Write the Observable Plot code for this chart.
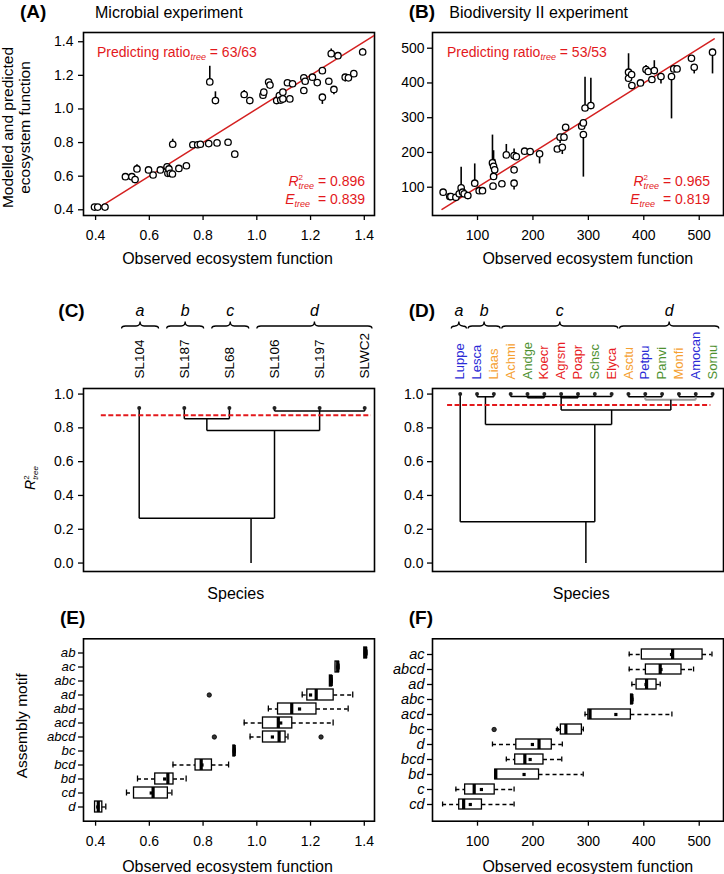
<!DOCTYPE html>
<html><head><meta charset="utf-8">
<script src="https://cdn.jsdelivr.net/npm/d3@7"></script>
<script src="https://cdn.jsdelivr.net/npm/@observablehq/plot@0.6"></script>
<style>
body{margin:0;background:#fff;}
#root{position:relative;width:724px;height:874px;overflow:hidden;background:#fff;}
</style></head><body><div id="root"></div>
<script>
// ---------- DATA ----------
// Panel A: Microbial experiment (observed, modelled, predicted)
const obsA  = [0.396,0.408,0.435,0.511,0.535,0.547,0.554,0.597,0.614,0.641,0.666,0.669,0.673,0.678,0.686,0.71,0.738,0.687,0.762,0.78,0.79,0.821,0.852,0.893,0.918,0.825,0.846,0.953,0.974,1.023,1.026,1.044,1.049,1.074,1.084,1.089,1.097,1.097,1.114,1.123,1.133,1.175,1.175,1.18,1.207,1.225,1.244,1.244,1.268,1.277,1.287,1.302,1.329,1.341,1.361,1.394];
const predA = [0.416,0.416,0.416,0.597,0.597,0.58,0.643,0.637,0.607,0.637,0.656,0.617,0.643,0.617,0.613,0.646,0.662,0.79,0.787,0.787,0.79,0.794,0.798,0.802,0.731,1.161,1.05,1.086,1.05,1.082,1.10,1.16,1.142,1.05,1.08,1.053,1.1,1.06,1.156,1.06,1.15,1.11,1.185,1.165,1.189,1.157,1.228,1.07,1.165,1.329,1.116,1.317,1.189,1.185,1.21,1.339];
const endA  = [0.416,0.416,0.416,0.597,0.597,0.58,0.668,0.637,0.607,0.637,0.676,0.617,0.643,0.617,0.613,0.646,0.662,0.82,0.787,0.787,0.79,0.794,0.798,0.802,0.731,1.254,1.102,1.11,1.05,1.082,1.115,1.176,1.16,1.05,1.08,1.053,1.1,1.06,1.156,1.06,1.15,1.11,1.20,1.165,1.189,1.157,1.228,1.027,1.15,1.357,1.085,1.317,1.16,1.17,1.21,1.36];
const fitA = [0.42, 1.44];
const statsA = {ratio: "63/63", r2: "0.896", e: "0.839"};

// Panel B: Biodiversity II experiment
const obsB  = [38,50,52,61,67,70.5,73,76,82.6,95,103,109,127,129,131,129,128,144,152,166,170,166,166,185,195,212,244,249,253,256,259,288,291,291,294,304.5,372.5,372.5,378,378.5,394,404,408,414.6,419,431,450,454,460,486,491,524];
const predB = [85.6,73,73,71,81,98,85.6,81,76,111.5,90,90,170,160,150,131,103,110,193,191,188,150,111.5,203.6,202.6,196,210,244,215,244,272.6,275.5,285,251.5,328,335,431,413.6,424,392.6,400,438.6,433,410,435.7,418.5,418.5,440.5,440.5,471,445,488.5];
const endB  = [85.6,73,73,71,81,157.5,85.6,81,76,167,90,90,250,205,180,131,103,110,223,210,188,150,92,203.6,202.6,167,210,226,194,244,272.6,275.5,285,129,416.5,413.7,484,413.6,424,392.6,400,450,433,410,464,397,296.6,440.5,440.5,471,426,426];
const fitB = [36, 527];
const statsB = {ratio: "53/53", r2: "0.965", e: "0.819"};

// Panel C: dendrogram, microbial species
const leavesC = ["SL104","SL187","SL68","SL106","SL197","SLWC2"];
const leafR2C = 0.918;
const mergesC = [
  {id:"bc",   children:["SL187","SL68"], height:0.854, anchor:1.5},
  {id:"d",    children:["SL106","SL197","SLWC2"], height:0.90, anchor:4},
  {id:"bcd",  children:["bc","d"], height:0.784, anchor:3},
  {id:"root", children:["SL104","bcd"], height:0.265, anchor:2.48}
];
const thresholdC = 0.874;
const groupsC = [{g:"a",from:0,to:0},{g:"b",from:1,to:1},{g:"c",from:2,to:2},{g:"d",from:3,to:5}];

// Panel D: dendrogram, plant species
const leavesD = ["Luppe","Lesca","Liaas","Achmi","Andge","Koecr","Agrsm","Poapr","Schsc","Elyca","Asctu","Petpu","Panvi","Monfi","Amocan","Sornu"];
const funcGroupD = ["legume","legume","forb","forb","C4","C3","C3","C3","C4","C3","forb","legume","C4","forb","legume","C4"];
const leafR2D = 1.0;
const mergesD = [
  {id:"b",   children:["Lesca","Liaas"], height:0.984, anchor:1.5},
  {id:"c1",  children:["Andge","Koecr"], height:0.978, anchor:4.5},
  {id:"c2",  children:["Agrsm","Poapr"], height:0.978, anchor:6.5},
  {id:"c",   children:["Achmi","c1","c2","Schsc","Elyca"], height:0.985, anchor:6},
  {id:"d1",  children:["Asctu","Petpu","Panvi"], height:0.984, anchor:11},
  {id:"d2",  children:["Monfi","Amocan","Sornu"], height:0.984, anchor:14},
  {id:"d",   children:["d1","d2"], height:0.967, anchor:12.52},
  {id:"cd",  children:["c","d"], height:0.906, anchor:9},
  {id:"bcd", children:["b","cd"], height:0.82, anchor:8},
  {id:"root",children:["Luppe","bcd"], height:0.245, anchor:7.47}
];
const thresholdD = 0.935;
const groupsD = [{g:"a",from:0,to:0},{g:"b",from:1,to:2},{g:"c",from:3,to:9},{g:"d",from:10,to:15}];

// Panel E: box plots, microbial
const motifsE = ["ab","ac","abc","ad","abd","acd","abcd","bc","bcd","bd","cd","d"];
const q1E   = [1.400,1.293,1.272,1.188,1.079,1.023,1.023,0.913,0.772,0.622,0.543,0.398];
const medE  = [1.405,1.301,1.277,1.221,1.130,1.080,1.083,0.916,0.793,0.669,0.614,0.410];
const q3E   = [1.410,1.306,1.280,1.286,1.222,1.132,1.107,0.919,0.833,0.690,0.669,0.425];
const loE   = [1.400,1.293,1.272,1.169,1.043,0.953,0.975,0.913,0.688,0.556,0.515,0.398];
const hiE   = [1.410,1.306,1.280,1.357,1.340,1.284,1.116,0.919,0.895,0.737,0.684,0.438];
const meanE = [1.405,1.301,1.277,1.200,1.159,1.089,1.058,0.916,0.796,0.657,0.607,0.408];
const outMotifE = ["ad","abcd","abcd"];
const outValE   = [0.823,0.842,1.239];

// Panel F: box plots, Biodiversity II
const motifsF = ["ac","abcd","ad","abc","acd","bc","d","bcd","bd","c","cd"];
const q1F   = [396.5,403.8,387,377,300,250.4,170,168,132,77.7,67];
const medF  = [452,429.6,405,378.5,303,259.4,211,185.4,133,94,75];
const q3F   = [506,468,423,380,376.7,288.3,234,219,211,131,108];
const loF   = [373.7,373.7,378.5,377,294,244,127,152,132,61,37];
const hiF   = [523,489.8,429.6,380,450.7,291,253,252,290.7,166,166];
const meanF = [450,431,404,378.5,349.6,244,199,195,184,107,87];
const outMotifF = ["bc"];
const outValF   = [130];

const ticksA = [0.4,0.6,0.8,1.0,1.2,1.4];
const ticksB = [100,200,300,400,500];
const ticksR = [0,0.2,0.4,0.6,0.8,1.0];

// ---------- STYLE ----------
const FONT = "'Liberation Sans', Arial, Helvetica, sans-serif";
const RED = "#e3191c";
const baseStyle = {background:"transparent", fontFamily:FONT, fontSize:"14px", color:"#000", overflow:"visible"};
const root = document.getElementById("root");

function place(svg, left, top){
  svg.style.position = "absolute"; svg.style.left = left+"px"; svg.style.top = top+"px";
  svg.style.overflow = "visible"; svg.style.maxWidth = "none";
  root.appendChild(svg); return svg;
}
function rich(svg, {x, y, anchor="start", size=14, fill="#000", rotate=0, parts}){
  const g = d3.select(svg).append("g").attr("transform", `translate(${x},${y}) rotate(${rotate})`);
  const t = g.append("text").attr("text-anchor", anchor).attr("font-size", size).attr("fill", fill)
    .attr("font-family", FONT).style("white-space","pre");
  for (const p of parts){
    const s = t.append("tspan").text(p.t);
    if (p.italic) s.attr("font-style","italic");
    if (p.bold) s.attr("font-weight","bold");
    if (p.size) s.attr("font-size", p.size);
    if (p.dy) s.attr("dy", p.dy);
    if (p.dx) s.attr("dx", p.dx);
  }
}
function title(svg, x, y, letter, text, textX){
  rich(svg, {x, y, size:19, parts:[{t:letter, bold:true}]});
  if (text) rich(svg, {x:textX, y, size:16, parts:[{t:text}]});
}

// ---------- SCATTER PANELS ----------
function scatter(obs, pred, end, fit, ticks, fmt, xDom, yDom, marginLeft, width, padY){
  const pts = obs.map((o,i)=>({obs:o, pred:pred[i], end:end[i]}));
  return Plot.plot({
    width, height:270, marginLeft, marginRight:width-(marginLeft+291), marginTop:32, marginBottom:55,
    x:{domain:xDom}, y:{domain:yDom}, style:baseStyle,
    marks:[
      Plot.frame({stroke:"#000", strokeWidth:1.6}),
      Plot.axisX({ticks, tickFormat:fmt, tickSize:5, tickPadding:10, strokeWidth:1.3, label:null, fontSize:14}),
      Plot.axisY({ticks, tickFormat:fmt, tickSize:5, tickPadding:padY, strokeWidth:1.3, label:null, fontSize:14}),
      Plot.line(fit.map(v=>({x:v,y:v})), {x:"x", y:"y", stroke:"#d42020", strokeWidth:1.5, clip:true}),
      Plot.ruleX(pts, {x:"obs", y1:"pred", y2:"end", stroke:"#000", strokeWidth:1.6}),
      Plot.dot(pts, {x:"obs", y:"pred", r:3.2, stroke:"#000", fill:"#fff", strokeWidth:1.3})
    ]
  });
}
function statText(svg, startX, rightX, st){
  rich(svg, {x:startX, y:57, size:14, fill:RED, parts:[{t:"Predicting ratio"},{t:"tree", size:9, italic:true, dy:3},{t:" = "+st.ratio, dy:-3}]});
  rich(svg, {x:rightX, y:186, anchor:"end", size:14, fill:RED, parts:[{t:"R", italic:true},{t:"2", size:8, dy:-6},{t:"tree", size:9, italic:true, dx:-4.5, dy:9},{t:" = "+st.r2, dy:-3}]});
  rich(svg, {x:rightX, y:204, anchor:"end", size:14, fill:RED, parts:[{t:"E", italic:true},{t:"tree", size:9, italic:true, dy:3},{t:"  = "+st.e, dy:-3}]});
}

const A = place(scatter(obsA, predA, endA, fitA, ticksA, ".1f", [0.355,1.438], [0.366,1.455], 83, 380, 5), 0, 0);
title(A, 20, 18, "(A)", "Microbial experiment", 95);
statText(A, 97, 365, statsA);
rich(A, {x:227.5, y:264, anchor:"middle", size:16, parts:[{t:"Observed ecosystem function"}]});
rich(A, {x:12.5, y:127.5, anchor:"middle", size:15.5, rotate:-90, parts:[{t:"Modelled and predicted"}]});
rich(A, {x:29.5, y:127.5, anchor:"middle", size:15.5, rotate:-90, parts:[{t:"ecosystem function"}]});

const B = place(scatter(obsB, predB, endB, fitB, ticksB, "d", [18.8,543.8], [18.6,545.2], 52, 344, 3), 380, 0);
title(B, 28.7, 18, "(B)", "Biodiversity II experiment", 69.3);
statText(B, 67, 330, statsB);
rich(B, {x:207.8, y:264, anchor:"middle", size:16, parts:[{t:"Observed ecosystem function"}]});

// ---------- DENDROGRAMS ----------
function dendro(leaves, leafH, merges){
  const pos = new Map(leaves.map((l,i)=>[l,{x:i,h:leafH}]));
  const segs = [];
  for (const m of merges){
    const cs = m.children.map(c=>pos.get(c));
    const xs = cs.map(c=>c.x);
    segs.push({x1:d3.min(xs), x2:d3.max(xs), y1:m.height, y2:m.height, id:m.id});
    for (const c of cs) segs.push({x1:c.x, x2:c.x, y1:c.h, y2:m.height, id:m.id});
    pos.set(m.id, {x:m.anchor, h:m.height});
  }
  const r = merges[merges.length-1];
  segs.push({x1:r.anchor, x2:r.anchor, y1:r.height, y2:0, id:"trunk"});
  return segs;
}
function braces(svg, plot, groups, padL, padR, yLine, size){
  const x = plot.scale("x").apply;
  const maxX = plot.scale("x").range[1] - 2;
  const g = d3.select(svg).append("g").attr("fill","none").attr("stroke","#000").attr("stroke-width",1.3);
  for (const gr of groups){
    const x1 = x(gr.from - padL), x2 = Math.min(maxX, x(gr.to + padR)), mid = (x1+x2)/2, r = 4;
    const yE = yLine+2.5, yP = yLine-4.5;
    g.append("path").attr("d",
      `M${x1},${yE} Q${x1},${yLine} ${x1+r},${yLine} L${mid-r},${yLine} Q${mid},${yLine} ${mid},${yP} Q${mid},${yLine} ${mid+r},${yLine} L${x2-r},${yLine} Q${x2},${yLine} ${x2},${yE}`);
    rich(svg, {x:mid, y:yLine-10, anchor:"middle", size, parts:[{t:gr.g, italic:true}]});
  }
}
function dendroPlot(leaves, leafH, merges, thr, width, marginLeft, xDom, labelSize, labelDy, extra, padY){
  const segs = dendro(leaves, leafH, merges);
  const n = leaves.length;
  return Plot.plot({
    width, height:330, marginLeft, marginRight:width-(marginLeft+291), marginTop:108, marginBottom:39,
    x:{domain:xDom, axis:null}, y:{domain:[-0.05,1.033]}, style:baseStyle,
    color: extra.color,
    marks:[
      Plot.frame({stroke:"#000", strokeWidth:1.6}),
      Plot.axisY({ticks:ticksR, tickFormat:".1f", tickSize:5, tickPadding:padY, strokeWidth:1.3, label:null, fontSize:14}),
      Plot.link(segs, {x1:"x1", y1:"y1", x2:"x2", y2:"y2", stroke:d=>extra.grey && extra.grey.includes(d.id) ? "#999" : "#000",
        strokeWidth:d=>extra.grey && extra.grey.includes(d.id) ? 2 : 1.5}),
      Plot.ruleY([thr], {x1:extra.thrFrom, x2:n-1+extra.thrTo, stroke:RED, strokeWidth:2, strokeDasharray:"5,2.5"}),
      Plot.dot(leaves, {x:(d,i)=>i, y:leafH, r:2, fill:"#222"}),
      Plot.text(leaves, {x:(d,i)=>i, frameAnchor:"top", dy:labelDy, rotate:-90, textAnchor:"start", lineAnchor:"middle",
        text:d=>d, fontSize:labelSize, fill: extra.fill || "#000"})
    ]
  });
}

const Cp = dendroPlot(leavesC, leafR2C, mergesC, thresholdC, 380, 83, [-1.235,5.217], 13.5, -10, {thrFrom:-0.84, thrTo:0.15}, 5);
const C = place(Cp, 0, 280);
braces(C, Cp, groupsC, 0.38, 0.44, 46, 16);
title(C, 58.3, 37, "(C)");
rich(C, {x:235.8, y:319, anchor:"middle", size:16, parts:[{t:"Species"}]});
rich(C, {x:35, y:198, anchor:"middle", size:14, rotate:-90, parts:[{t:"R", italic:true},{t:"2", size:8, dy:-6},{t:"tree", size:8, italic:true, dx:-4.5, dy:9}]});

const Dp = dendroPlot(leavesD, leafR2D, mergesD, thresholdD, 344, 52, [-1.647,15.65], 13, -9,
  {thrFrom:-0.75, thrTo:-0.1, grey:["d"], fill:(d,i)=>funcGroupD[i],
   color:{domain:["legume","forb","C4","C3"], range:["#2b2bd6","#f5a030","#4e9130","#e81c24"]}}, 4);
const D = place(Dp, 380, 280);
braces(D, Dp, groupsD, 0.5, 0.4, 46, 16);
title(D, 28.7, 37, "(D)");
rich(D, {x:201.2, y:319, anchor:"middle", size:16, parts:[{t:"Species"}]});

// ---------- BOX PLOTS ----------
function boxPlot(motifs, q1, med, q3, lo, hi, mean, outM, outV, ticks, fmt, xDom, width, marginLeft, pi, po, labelSize){
  const rows = motifs.map((m,i)=>({m, q1:q1[i], med:med[i], q3:q3[i], lo:lo[i], hi:hi[i], mean:mean[i]}));
  const outs = outM.map((m,i)=>({m, v:outV[i]}));
  return Plot.plot({
    width, height:264, marginLeft, marginRight:width-(marginLeft+291), marginTop:28.3, marginBottom:53.3,
    x:{domain:xDom}, y:{type:"band", domain:motifs, paddingInner:pi, paddingOuter:po}, style:baseStyle,
    marks:[
      Plot.frame({stroke:"#000", strokeWidth:1.6}),
      Plot.axisX({ticks, tickFormat:fmt, tickSize:5, tickPadding:9.5, strokeWidth:1.3, label:null, fontSize:14}),
      Plot.axisY({tickSize:5, tickPadding:3, strokeWidth:1.3, label:null, fontSize:labelSize, fontStyle:"italic"}),
      Plot.ruleY(rows, {y:"m", x1:"lo", x2:"q1", stroke:"#000", strokeWidth:1.3, strokeDasharray:"4,3"}),
      Plot.ruleY(rows, {y:"m", x1:"q3", x2:"hi", stroke:"#000", strokeWidth:1.3, strokeDasharray:"4,3"}),
      Plot.tickX(rows, {x:"lo", y:"m", insetTop:2.5, insetBottom:2.5, strokeWidth:1.3}),
      Plot.tickX(rows, {x:"hi", y:"m", insetTop:2.5, insetBottom:2.5, strokeWidth:1.3}),
      Plot.barX(rows, {y:"m", x1:"q1", x2:"q3", fill:"#fff", stroke:"#000", strokeWidth:1.3}),
      Plot.tickX(rows, {x:"med", y:"m", stroke:"#000", strokeWidth:3.2}),
      Plot.dot(rows, {x:"mean", y:"m", symbol:"square", r:1.8, fill:"#000"}),
      Plot.dot(outs, {x:"v", y:"m", r:2.2, fill:"#333", stroke:"#000", strokeWidth:0.8})
    ]
  });
}
const E = place(boxPlot(motifsE, q1E, medE, q3E, loE, hiE, meanE, outMotifE, outValE, ticksA, ".1f", [0.355,1.438], 380, 83, 0.216, 0.606, 13.2), 0, 610);
title(E, 60, 14, "(E)");
rich(E, {x:227.5, y:262.4, anchor:"middle", size:16, parts:[{t:"Observed ecosystem function"}]});
rich(E, {x:27, y:115.8, anchor:"middle", size:15.5, rotate:-90, parts:[{t:"Assembly motif"}]});

const F = place(boxPlot(motifsF, q1F, medF, q3F, loF, hiF, meanF, outMotifF, outValF, ticksB, "d", [18.8,543.8], 344, 52, 0.307, 0.56, 14.5), 380, 610);
title(F, 28.7, 14, "(F)");
rich(F, {x:207.8, y:262.4, anchor:"middle", size:16, parts:[{t:"Observed ecosystem function"}]});
</script></body></html>
